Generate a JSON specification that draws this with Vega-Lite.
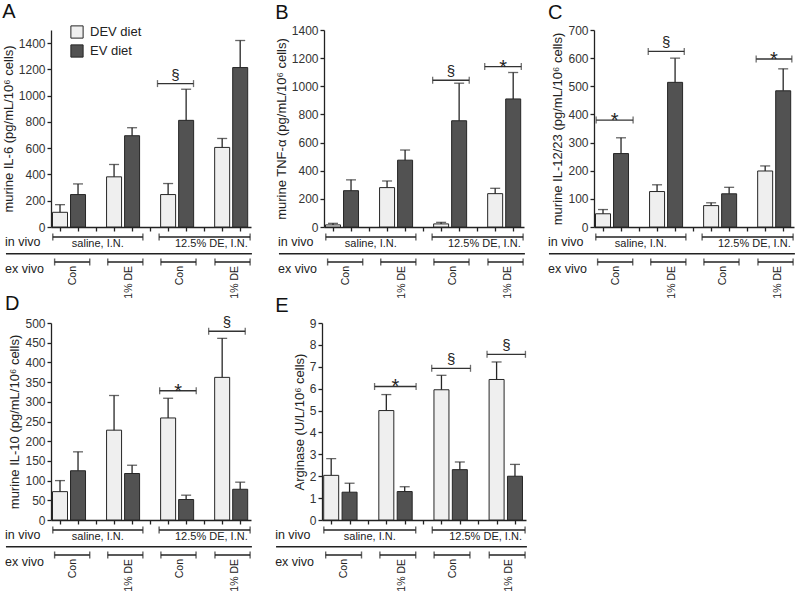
{
 "$schema": "https://vega.github.io/schema/vega-lite/v6.json",
 "padding": {"left": 2, "top": 2, "right": 0, "bottom": 0},
 "background": "white",
 "config": {
  "font": "Liberation Sans",
  "view": {"stroke": null},
  "axis": {"domainColor": "#222222", "tickColor": "#222222", "labelColor": "#333333", "titleColor": "#222222", "labelFontSize": 12, "titleFontSize": 13, "titleFontWeight": "normal", "grid": false, "domainWidth": 1.3, "tickWidth": 1.3, "tickSize": 4, "labelPadding": 2, "titlePadding": 3},
  "title": {"anchor": "start", "frame": "bounds", "fontSize": 20, "fontWeight": "normal", "color": "#111111", "offset": 1},
  "text": {"color": "#222222"}
 },
 "datasets": {
  "bars": [
   {"panel": "A", "diet": "DEV diet", "pos": 1, "mean": 112, "upper": 170},
   {"panel": "A", "diet": "EV diet", "pos": 2, "mean": 247, "upper": 328},
   {"panel": "A", "diet": "DEV diet", "pos": 4, "mean": 382, "upper": 476},
   {"panel": "A", "diet": "EV diet", "pos": 5, "mean": 695, "upper": 756},
   {"panel": "A", "diet": "DEV diet", "pos": 7, "mean": 247, "upper": 331},
   {"panel": "A", "diet": "EV diet", "pos": 8, "mean": 812, "upper": 1049},
   {"panel": "A", "diet": "DEV diet", "pos": 10, "mean": 606, "upper": 674},
   {"panel": "A", "diet": "EV diet", "pos": 11, "mean": 1214, "upper": 1420},
   {"panel": "B", "diet": "DEV diet", "pos": 1, "mean": 15, "upper": 26},
   {"panel": "B", "diet": "EV diet", "pos": 2, "mean": 258, "upper": 335},
   {"panel": "B", "diet": "DEV diet", "pos": 4, "mean": 280, "upper": 327},
   {"panel": "B", "diet": "EV diet", "pos": 5, "mean": 475, "upper": 547},
   {"panel": "B", "diet": "DEV diet", "pos": 7, "mean": 22, "upper": 33},
   {"panel": "B", "diet": "EV diet", "pos": 8, "mean": 755, "upper": 1022},
   {"panel": "B", "diet": "DEV diet", "pos": 10, "mean": 237, "upper": 275},
   {"panel": "B", "diet": "EV diet", "pos": 11, "mean": 910, "upper": 1098},
   {"panel": "C", "diet": "DEV diet", "pos": 1, "mean": 47, "upper": 62},
   {"panel": "C", "diet": "EV diet", "pos": 2, "mean": 261, "upper": 317},
   {"panel": "C", "diet": "DEV diet", "pos": 4, "mean": 126, "upper": 150},
   {"panel": "C", "diet": "EV diet", "pos": 5, "mean": 514, "upper": 600},
   {"panel": "C", "diet": "DEV diet", "pos": 7, "mean": 76, "upper": 86},
   {"panel": "C", "diet": "EV diet", "pos": 8, "mean": 118, "upper": 141},
   {"panel": "C", "diet": "DEV diet", "pos": 10, "mean": 199, "upper": 217},
   {"panel": "C", "diet": "EV diet", "pos": 11, "mean": 484, "upper": 562},
   {"panel": "D", "diet": "DEV diet", "pos": 1, "mean": 72, "upper": 100},
   {"panel": "D", "diet": "EV diet", "pos": 2, "mean": 125, "upper": 173},
   {"panel": "D", "diet": "DEV diet", "pos": 4, "mean": 228, "upper": 316},
   {"panel": "D", "diet": "EV diet", "pos": 5, "mean": 118, "upper": 139},
   {"panel": "D", "diet": "DEV diet", "pos": 7, "mean": 259, "upper": 309},
   {"panel": "D", "diet": "EV diet", "pos": 8, "mean": 52, "upper": 63},
   {"panel": "D", "diet": "DEV diet", "pos": 10, "mean": 362, "upper": 461},
   {"panel": "D", "diet": "EV diet", "pos": 11, "mean": 78, "upper": 96},
   {"panel": "E", "diet": "DEV diet", "pos": 1, "mean": 2.04, "upper": 2.8},
   {"panel": "E", "diet": "EV diet", "pos": 2, "mean": 1.27, "upper": 1.68},
   {"panel": "E", "diet": "DEV diet", "pos": 4, "mean": 5.0, "upper": 5.73},
   {"panel": "E", "diet": "EV diet", "pos": 5, "mean": 1.3, "upper": 1.52},
   {"panel": "E", "diet": "DEV diet", "pos": 7, "mean": 5.95, "upper": 6.61},
   {"panel": "E", "diet": "EV diet", "pos": 8, "mean": 2.3, "upper": 2.65},
   {"panel": "E", "diet": "DEV diet", "pos": 10, "mean": 6.42, "upper": 7.22},
   {"panel": "E", "diet": "EV diet", "pos": 11, "mean": 2.0, "upper": 2.54}
  ],
  "sig": [
   {"panel": "A", "from": 6.41, "to": 8.41, "mid": 7.41, "y": 1092, "symbol": "§"},
   {"panel": "B", "from": 6.53, "to": 8.56, "mid": 7.55, "y": 1043, "symbol": "§"},
   {"panel": "B", "from": 9.42, "to": 11.45, "mid": 10.44, "y": 1140, "symbol": "*"},
   {"panel": "C", "from": 0.62, "to": 2.67, "mid": 1.65, "y": 380, "symbol": "*"},
   {"panel": "C", "from": 3.51, "to": 5.51, "mid": 4.51, "y": 624, "symbol": "§"},
   {"panel": "C", "from": 9.5, "to": 11.48, "mid": 10.49, "y": 597, "symbol": "*"},
   {"panel": "D", "from": 6.53, "to": 8.56, "mid": 7.55, "y": 328, "symbol": "*"},
   {"panel": "D", "from": 9.25, "to": 11.28, "mid": 10.27, "y": 479, "symbol": "§"},
   {"panel": "E", "from": 3.36, "to": 5.62, "mid": 4.49, "y": 6.1, "symbol": "*"},
   {"panel": "E", "from": 6.47, "to": 8.58, "mid": 7.53, "y": 6.93, "symbol": "§"},
   {"panel": "E", "from": 9.48, "to": 11.57, "mid": 10.53, "y": 7.57, "symbol": "§"}
  ],
  "groups": [
   {"tier": "in vivo", "label": "saline, I.N.", "from": 0.6, "to": 5.6, "mid": 3.1},
   {"tier": "in vivo", "label": "12.5% DE, I.N.", "from": 6.5, "to": 11.55, "mid": 9.4},
   {"tier": "ex vivo", "label": "Con", "from": 0.7, "to": 2.65, "mid": 1.7},
   {"tier": "ex vivo", "label": "1% DE", "from": 3.65, "to": 5.6, "mid": 4.85},
   {"tier": "ex vivo", "label": "Con", "from": 6.6, "to": 8.55, "mid": 7.65},
   {"tier": "ex vivo", "label": "1% DE", "from": 9.6, "to": 11.55, "mid": 10.7}
  ],
  "tiers": [
   {"tier": "in vivo"},
   {"tier": "ex vivo"}
  ]
 },
 "resolve": {"scale": {"fill": "independent"}, "legend": {"fill": "independent"}},
 "spacing": -5,
 "vconcat": [
  {
   "spacing": 22,
   "resolve": {"scale": {"fill": "independent"}, "legend": {"fill": "independent"}},
   "hconcat": [
    {
     "title": {"text": "A", "offset": 3},
     "width": 200, "height": 197,
     "resolve": {"scale": {"y": "independent"}},
     "layer": [
      {"layer": [
       {"data": {"name": "bars"}, "transform": [{"filter": "datum.panel === 'A'"}], "mark": {"type": "bar", "orient": "vertical", "width": 15, "stroke": "#262626", "strokeWidth": 1},
        "encoding": {"x": {"field": "pos", "type": "quantitative", "scale": {"domain": [0.5, 11.6], "nice": false, "zero": false, "padding": 0}, "axis": {"values": [1,2,3,4,5,6,7,8,9,10,11], "labels": false, "title": null}}, "y": {"field": "mean", "type": "quantitative", "scale": {"domain": [0, 1500], "nice": false}, "axis": {"values": [0,200,400,600,800,1000,1200,1400], "format": "d", "title": "murine IL-6 (pg/mL/10⁶ cells)"}},
         "fill": {"field": "diet", "type": "nominal", "scale": {"domain": ["DEV diet", "EV diet"], "range": ["#efefef", "#525252"]}, "legend": {"orient": "none", "legendX": 19, "legendY": -5, "title": null, "symbolType": "square", "symbolSize": 150, "symbolStrokeColor": "#262626", "symbolStrokeWidth": 1, "labelFontSize": 13, "labelColor": "#222222", "rowPadding": 1, "labelOffset": 6}}}},
       {"data": {"name": "bars"}, "transform": [{"filter": "datum.panel === 'A'"}], "mark": {"type": "rule", "color": "#262626", "strokeWidth": 1.3},
        "encoding": {"x": {"field": "pos", "type": "quantitative", "scale": {"domain": [0.5, 11.6], "nice": false, "zero": false, "padding": 0}, "axis": {"values": [1,2,3,4,5,6,7,8,9,10,11], "labels": false, "title": null}}, "y": {"field": "mean", "type": "quantitative", "scale": {"domain": [0, 1500], "nice": false}, "axis": {"values": [0,200,400,600,800,1000,1200,1400], "format": "d", "title": "murine IL-6 (pg/mL/10⁶ cells)"}}, "y2": {"field": "upper"}}},
       {"data": {"name": "bars"}, "transform": [{"filter": "datum.panel === 'A'"}], "mark": {"type": "tick", "orient": "horizontal", "size": 10, "thickness": 1.3, "color": "#262626"},
        "encoding": {"x": {"field": "pos", "type": "quantitative", "scale": {"domain": [0.5, 11.6], "nice": false, "zero": false, "padding": 0}, "axis": {"values": [1,2,3,4,5,6,7,8,9,10,11], "labels": false, "title": null}}, "y": {"field": "upper", "type": "quantitative", "scale": {"domain": [0, 1500], "nice": false}, "axis": {"values": [0,200,400,600,800,1000,1200,1400], "format": "d", "title": "murine IL-6 (pg/mL/10⁶ cells)"}}}},
       {"data": {"name": "sig"}, "transform": [{"filter": "datum.panel === 'A'"}], "mark": {"type": "rule", "color": "#333333", "strokeWidth": 1.3},
        "encoding": {"x": {"field": "from", "type": "quantitative", "scale": {"domain": [0.5, 11.6], "nice": false, "zero": false, "padding": 0}, "axis": {"values": [1,2,3,4,5,6,7,8,9,10,11], "labels": false, "title": null}}, "x2": {"field": "to"}, "y": {"field": "y", "type": "quantitative", "scale": {"domain": [0, 1500], "nice": false}, "axis": {"values": [0,200,400,600,800,1000,1200,1400], "format": "d", "title": "murine IL-6 (pg/mL/10⁶ cells)"}}}},
       {"data": {"name": "sig"}, "transform": [{"filter": "datum.panel === 'A'"}, {"fold": ["from", "to"], "as": ["end", "xe"]}], "mark": {"type": "tick", "orient": "vertical", "size": 7, "thickness": 1.3, "color": "#333333"},
        "encoding": {"x": {"field": "xe", "type": "quantitative", "scale": {"domain": [0.5, 11.6], "nice": false, "zero": false, "padding": 0}, "axis": {"values": [1,2,3,4,5,6,7,8,9,10,11], "labels": false, "title": null}}, "y": {"field": "y", "type": "quantitative", "scale": {"domain": [0, 1500], "nice": false}, "axis": {"values": [0,200,400,600,800,1000,1200,1400], "format": "d", "title": "murine IL-6 (pg/mL/10⁶ cells)"}}}},
       {"data": {"name": "sig"}, "transform": [{"filter": "datum.panel === 'A' && datum.symbol === '§'"}], "mark": {"type": "text", "fontSize": 15, "dy": -4, "baseline": "alphabetic", "color": "#222222"},
        "encoding": {"x": {"field": "mid", "type": "quantitative", "scale": {"domain": [0.5, 11.6], "nice": false, "zero": false, "padding": 0}, "axis": {"values": [1,2,3,4,5,6,7,8,9,10,11], "labels": false, "title": null}}, "y": {"field": "y", "type": "quantitative", "scale": {"domain": [0, 1500], "nice": false}, "axis": {"values": [0,200,400,600,800,1000,1200,1400], "format": "d", "title": "murine IL-6 (pg/mL/10⁶ cells)"}}, "text": {"field": "symbol"}}}
      ]},
      {"layer": [
       {"data": {"name": "groups"}, "transform": [{"filter": "datum.tier === 'in vivo'"}], "mark": {"type": "rule", "color": "#222222", "strokeWidth": 1.4}, "encoding": {"x": {"field": "from", "type": "quantitative", "scale": {"domain": [0.5, 11.6], "nice": false, "zero": false, "padding": 0}, "axis": {"values": [1,2,3,4,5,6,7,8,9,10,11], "labels": false, "title": null}}, "x2": {"field": "to"}, "y": {"datum": 10, "type": "quantitative", "scale": {"domain": [-197, 0], "reverse": true, "nice": false, "zero": false}, "axis": null}}},
       {"data": {"name": "groups"}, "transform": [{"filter": "datum.tier === 'in vivo'"}, {"fold": ["from", "to"], "as": ["end", "xe"]}], "mark": {"type": "tick", "orient": "vertical", "size": 7, "thickness": 1.4, "color": "#222222"}, "encoding": {"x": {"field": "xe", "type": "quantitative", "scale": {"domain": [0.5, 11.6], "nice": false, "zero": false, "padding": 0}, "axis": {"values": [1,2,3,4,5,6,7,8,9,10,11], "labels": false, "title": null}}, "y": {"datum": 10, "type": "quantitative", "scale": {"domain": [-197, 0], "reverse": true, "nice": false, "zero": false}, "axis": null}}},
       {"data": {"name": "groups"}, "transform": [{"filter": "datum.tier === 'ex vivo'"}], "mark": {"type": "rule", "color": "#222222", "strokeWidth": 1.4}, "encoding": {"x": {"field": "from", "type": "quantitative", "scale": {"domain": [0.5, 11.6], "nice": false, "zero": false, "padding": 0}, "axis": {"values": [1,2,3,4,5,6,7,8,9,10,11], "labels": false, "title": null}}, "x2": {"field": "to"}, "y": {"datum": 35, "type": "quantitative", "scale": {"domain": [-197, 0], "reverse": true, "nice": false, "zero": false}, "axis": null}}},
       {"data": {"name": "groups"}, "transform": [{"filter": "datum.tier === 'ex vivo'"}, {"fold": ["from", "to"], "as": ["end", "xe"]}], "mark": {"type": "tick", "orient": "vertical", "size": 7, "thickness": 1.4, "color": "#222222"}, "encoding": {"x": {"field": "xe", "type": "quantitative", "scale": {"domain": [0.5, 11.6], "nice": false, "zero": false, "padding": 0}, "axis": {"values": [1,2,3,4,5,6,7,8,9,10,11], "labels": false, "title": null}}, "y": {"datum": 35, "type": "quantitative", "scale": {"domain": [-197, 0], "reverse": true, "nice": false, "zero": false}, "axis": null}}},
       {"data": {"name": "groups"}, "transform": [{"filter": "datum.tier === 'in vivo'"}], "mark": {"type": "text", "fontSize": 11, "align": "center", "baseline": "middle", "color": "#222222"}, "encoding": {"x": {"field": "mid", "type": "quantitative", "scale": {"domain": [0.5, 11.6], "nice": false, "zero": false, "padding": 0}, "axis": {"values": [1,2,3,4,5,6,7,8,9,10,11], "labels": false, "title": null}}, "y": {"datum": 17, "type": "quantitative", "scale": {"domain": [-197, 0], "reverse": true, "nice": false, "zero": false}, "axis": null}, "text": {"field": "label"}}},
       {"data": {"name": "groups"}, "transform": [{"filter": "datum.tier === 'ex vivo'"}], "mark": {"type": "text", "fontSize": 10.5, "angle": 270, "align": "right", "baseline": "middle", "color": "#222222"}, "encoding": {"x": {"field": "mid", "type": "quantitative", "scale": {"domain": [0.5, 11.6], "nice": false, "zero": false, "padding": 0}, "axis": {"values": [1,2,3,4,5,6,7,8,9,10,11], "labels": false, "title": null}}, "y": {"datum": 39, "type": "quantitative", "scale": {"domain": [-197, 0], "reverse": true, "nice": false, "zero": false}, "axis": null}, "text": {"field": "label"}}},
       {"data": {"name": "tiers"}, "transform": [{"filter": "datum.tier === 'in vivo'"}], "mark": {"type": "text", "fontSize": 12.5, "align": "left", "baseline": "middle", "color": "#222222"}, "encoding": {"x": {"datum": -2.05, "type": "quantitative", "scale": {"domain": [0.5, 11.6], "nice": false, "zero": false, "padding": 0}, "axis": {"values": [1,2,3,4,5,6,7,8,9,10,11], "labels": false, "title": null}}, "y": {"datum": 15, "type": "quantitative", "scale": {"domain": [-197, 0], "reverse": true, "nice": false, "zero": false}, "axis": null}, "text": {"field": "tier"}}},
       {"data": {"name": "tiers"}, "transform": [{"filter": "datum.tier === 'ex vivo'"}], "mark": {"type": "text", "fontSize": 12.5, "align": "left", "baseline": "middle", "color": "#222222"}, "encoding": {"x": {"datum": -2.05, "type": "quantitative", "scale": {"domain": [0.5, 11.6], "nice": false, "zero": false, "padding": 0}, "axis": {"values": [1,2,3,4,5,6,7,8,9,10,11], "labels": false, "title": null}}, "y": {"datum": 42, "type": "quantitative", "scale": {"domain": [-197, 0], "reverse": true, "nice": false, "zero": false}, "axis": null}, "text": {"field": "tier"}}},
       {"data": {"name": "tiers"}, "transform": [{"filter": "datum.tier === 'in vivo'"}], "mark": {"type": "rule", "color": "#222222", "strokeWidth": 1.4}, "encoding": {"x": {"datum": -2.0, "type": "quantitative", "scale": {"domain": [0.5, 11.6], "nice": false, "zero": false, "padding": 0}, "axis": {"values": [1,2,3,4,5,6,7,8,9,10,11], "labels": false, "title": null}}, "x2": {"datum": 11.65}, "y": {"datum": 26.7, "type": "quantitative", "scale": {"domain": [-197, 0], "reverse": true, "nice": false, "zero": false}, "axis": null}}}
      ]}
     ]
    },
    {
     "title": {"text": "B"},
     "width": 200, "height": 197,
     "resolve": {"scale": {"y": "independent"}},
     "layer": [
      {"layer": [
       {"data": {"name": "bars"}, "transform": [{"filter": "datum.panel === 'B'"}], "mark": {"type": "bar", "orient": "vertical", "width": 15, "stroke": "#262626", "strokeWidth": 1},
        "encoding": {"x": {"field": "pos", "type": "quantitative", "scale": {"domain": [0.5, 11.6], "nice": false, "zero": false, "padding": 0}, "axis": {"values": [1,2,3,4,5,6,7,8,9,10,11], "labels": false, "title": null}}, "y": {"field": "mean", "type": "quantitative", "scale": {"domain": [0, 1400], "nice": false}, "axis": {"values": [0,200,400,600,800,1000,1200,1400], "format": "d", "title": "murine TNF-α (pg/mL/10⁶ cells)"}},
         "fill": {"field": "diet", "type": "nominal", "scale": {"domain": ["DEV diet", "EV diet"], "range": ["#efefef", "#525252"]}, "legend": null}}},
       {"data": {"name": "bars"}, "transform": [{"filter": "datum.panel === 'B'"}], "mark": {"type": "rule", "color": "#262626", "strokeWidth": 1.3},
        "encoding": {"x": {"field": "pos", "type": "quantitative", "scale": {"domain": [0.5, 11.6], "nice": false, "zero": false, "padding": 0}, "axis": {"values": [1,2,3,4,5,6,7,8,9,10,11], "labels": false, "title": null}}, "y": {"field": "mean", "type": "quantitative", "scale": {"domain": [0, 1400], "nice": false}, "axis": {"values": [0,200,400,600,800,1000,1200,1400], "format": "d", "title": "murine TNF-α (pg/mL/10⁶ cells)"}}, "y2": {"field": "upper"}}},
       {"data": {"name": "bars"}, "transform": [{"filter": "datum.panel === 'B'"}], "mark": {"type": "tick", "orient": "horizontal", "size": 10, "thickness": 1.3, "color": "#262626"},
        "encoding": {"x": {"field": "pos", "type": "quantitative", "scale": {"domain": [0.5, 11.6], "nice": false, "zero": false, "padding": 0}, "axis": {"values": [1,2,3,4,5,6,7,8,9,10,11], "labels": false, "title": null}}, "y": {"field": "upper", "type": "quantitative", "scale": {"domain": [0, 1400], "nice": false}, "axis": {"values": [0,200,400,600,800,1000,1200,1400], "format": "d", "title": "murine TNF-α (pg/mL/10⁶ cells)"}}}},
       {"data": {"name": "sig"}, "transform": [{"filter": "datum.panel === 'B'"}], "mark": {"type": "rule", "color": "#333333", "strokeWidth": 1.3},
        "encoding": {"x": {"field": "from", "type": "quantitative", "scale": {"domain": [0.5, 11.6], "nice": false, "zero": false, "padding": 0}, "axis": {"values": [1,2,3,4,5,6,7,8,9,10,11], "labels": false, "title": null}}, "x2": {"field": "to"}, "y": {"field": "y", "type": "quantitative", "scale": {"domain": [0, 1400], "nice": false}, "axis": {"values": [0,200,400,600,800,1000,1200,1400], "format": "d", "title": "murine TNF-α (pg/mL/10⁶ cells)"}}}},
       {"data": {"name": "sig"}, "transform": [{"filter": "datum.panel === 'B'"}, {"fold": ["from", "to"], "as": ["end", "xe"]}], "mark": {"type": "tick", "orient": "vertical", "size": 7, "thickness": 1.3, "color": "#333333"},
        "encoding": {"x": {"field": "xe", "type": "quantitative", "scale": {"domain": [0.5, 11.6], "nice": false, "zero": false, "padding": 0}, "axis": {"values": [1,2,3,4,5,6,7,8,9,10,11], "labels": false, "title": null}}, "y": {"field": "y", "type": "quantitative", "scale": {"domain": [0, 1400], "nice": false}, "axis": {"values": [0,200,400,600,800,1000,1200,1400], "format": "d", "title": "murine TNF-α (pg/mL/10⁶ cells)"}}}},
       {"data": {"name": "sig"}, "transform": [{"filter": "datum.panel === 'B' && datum.symbol === '§'"}], "mark": {"type": "text", "fontSize": 15, "dy": -4, "baseline": "alphabetic", "color": "#222222"},
        "encoding": {"x": {"field": "mid", "type": "quantitative", "scale": {"domain": [0.5, 11.6], "nice": false, "zero": false, "padding": 0}, "axis": {"values": [1,2,3,4,5,6,7,8,9,10,11], "labels": false, "title": null}}, "y": {"field": "y", "type": "quantitative", "scale": {"domain": [0, 1400], "nice": false}, "axis": {"values": [0,200,400,600,800,1000,1200,1400], "format": "d", "title": "murine TNF-α (pg/mL/10⁶ cells)"}}, "text": {"field": "symbol"}}},
       {"data": {"name": "sig"}, "transform": [{"filter": "datum.panel === 'B' && datum.symbol === '*'"}], "mark": {"type": "text", "fontSize": 20, "dy": 7, "baseline": "alphabetic", "color": "#222222"},
        "encoding": {"x": {"field": "mid", "type": "quantitative", "scale": {"domain": [0.5, 11.6], "nice": false, "zero": false, "padding": 0}, "axis": {"values": [1,2,3,4,5,6,7,8,9,10,11], "labels": false, "title": null}}, "y": {"field": "y", "type": "quantitative", "scale": {"domain": [0, 1400], "nice": false}, "axis": {"values": [0,200,400,600,800,1000,1200,1400], "format": "d", "title": "murine TNF-α (pg/mL/10⁶ cells)"}}, "text": {"field": "symbol"}}}
      ]},
      {"layer": [
       {"data": {"name": "groups"}, "transform": [{"filter": "datum.tier === 'in vivo'"}], "mark": {"type": "rule", "color": "#222222", "strokeWidth": 1.4}, "encoding": {"x": {"field": "from", "type": "quantitative", "scale": {"domain": [0.5, 11.6], "nice": false, "zero": false, "padding": 0}, "axis": {"values": [1,2,3,4,5,6,7,8,9,10,11], "labels": false, "title": null}}, "x2": {"field": "to"}, "y": {"datum": 10, "type": "quantitative", "scale": {"domain": [-197, 0], "reverse": true, "nice": false, "zero": false}, "axis": null}}},
       {"data": {"name": "groups"}, "transform": [{"filter": "datum.tier === 'in vivo'"}, {"fold": ["from", "to"], "as": ["end", "xe"]}], "mark": {"type": "tick", "orient": "vertical", "size": 7, "thickness": 1.4, "color": "#222222"}, "encoding": {"x": {"field": "xe", "type": "quantitative", "scale": {"domain": [0.5, 11.6], "nice": false, "zero": false, "padding": 0}, "axis": {"values": [1,2,3,4,5,6,7,8,9,10,11], "labels": false, "title": null}}, "y": {"datum": 10, "type": "quantitative", "scale": {"domain": [-197, 0], "reverse": true, "nice": false, "zero": false}, "axis": null}}},
       {"data": {"name": "groups"}, "transform": [{"filter": "datum.tier === 'ex vivo'"}], "mark": {"type": "rule", "color": "#222222", "strokeWidth": 1.4}, "encoding": {"x": {"field": "from", "type": "quantitative", "scale": {"domain": [0.5, 11.6], "nice": false, "zero": false, "padding": 0}, "axis": {"values": [1,2,3,4,5,6,7,8,9,10,11], "labels": false, "title": null}}, "x2": {"field": "to"}, "y": {"datum": 35, "type": "quantitative", "scale": {"domain": [-197, 0], "reverse": true, "nice": false, "zero": false}, "axis": null}}},
       {"data": {"name": "groups"}, "transform": [{"filter": "datum.tier === 'ex vivo'"}, {"fold": ["from", "to"], "as": ["end", "xe"]}], "mark": {"type": "tick", "orient": "vertical", "size": 7, "thickness": 1.4, "color": "#222222"}, "encoding": {"x": {"field": "xe", "type": "quantitative", "scale": {"domain": [0.5, 11.6], "nice": false, "zero": false, "padding": 0}, "axis": {"values": [1,2,3,4,5,6,7,8,9,10,11], "labels": false, "title": null}}, "y": {"datum": 35, "type": "quantitative", "scale": {"domain": [-197, 0], "reverse": true, "nice": false, "zero": false}, "axis": null}}},
       {"data": {"name": "groups"}, "transform": [{"filter": "datum.tier === 'in vivo'"}], "mark": {"type": "text", "fontSize": 11, "align": "center", "baseline": "middle", "color": "#222222"}, "encoding": {"x": {"field": "mid", "type": "quantitative", "scale": {"domain": [0.5, 11.6], "nice": false, "zero": false, "padding": 0}, "axis": {"values": [1,2,3,4,5,6,7,8,9,10,11], "labels": false, "title": null}}, "y": {"datum": 17, "type": "quantitative", "scale": {"domain": [-197, 0], "reverse": true, "nice": false, "zero": false}, "axis": null}, "text": {"field": "label"}}},
       {"data": {"name": "groups"}, "transform": [{"filter": "datum.tier === 'ex vivo'"}], "mark": {"type": "text", "fontSize": 10.5, "angle": 270, "align": "right", "baseline": "middle", "color": "#222222"}, "encoding": {"x": {"field": "mid", "type": "quantitative", "scale": {"domain": [0.5, 11.6], "nice": false, "zero": false, "padding": 0}, "axis": {"values": [1,2,3,4,5,6,7,8,9,10,11], "labels": false, "title": null}}, "y": {"datum": 39, "type": "quantitative", "scale": {"domain": [-197, 0], "reverse": true, "nice": false, "zero": false}, "axis": null}, "text": {"field": "label"}}},
       {"data": {"name": "tiers"}, "transform": [{"filter": "datum.tier === 'in vivo'"}], "mark": {"type": "text", "fontSize": 12.5, "align": "left", "baseline": "middle", "color": "#222222"}, "encoding": {"x": {"datum": -2.05, "type": "quantitative", "scale": {"domain": [0.5, 11.6], "nice": false, "zero": false, "padding": 0}, "axis": {"values": [1,2,3,4,5,6,7,8,9,10,11], "labels": false, "title": null}}, "y": {"datum": 15, "type": "quantitative", "scale": {"domain": [-197, 0], "reverse": true, "nice": false, "zero": false}, "axis": null}, "text": {"field": "tier"}}},
       {"data": {"name": "tiers"}, "transform": [{"filter": "datum.tier === 'ex vivo'"}], "mark": {"type": "text", "fontSize": 12.5, "align": "left", "baseline": "middle", "color": "#222222"}, "encoding": {"x": {"datum": -2.05, "type": "quantitative", "scale": {"domain": [0.5, 11.6], "nice": false, "zero": false, "padding": 0}, "axis": {"values": [1,2,3,4,5,6,7,8,9,10,11], "labels": false, "title": null}}, "y": {"datum": 42, "type": "quantitative", "scale": {"domain": [-197, 0], "reverse": true, "nice": false, "zero": false}, "axis": null}, "text": {"field": "tier"}}},
       {"data": {"name": "tiers"}, "transform": [{"filter": "datum.tier === 'in vivo'"}], "mark": {"type": "rule", "color": "#222222", "strokeWidth": 1.4}, "encoding": {"x": {"datum": -2.0, "type": "quantitative", "scale": {"domain": [0.5, 11.6], "nice": false, "zero": false, "padding": 0}, "axis": {"values": [1,2,3,4,5,6,7,8,9,10,11], "labels": false, "title": null}}, "x2": {"datum": 11.65}, "y": {"datum": 26.7, "type": "quantitative", "scale": {"domain": [-197, 0], "reverse": true, "nice": false, "zero": false}, "axis": null}}}
      ]}
     ]
    },
    {
     "title": {"text": "C"},
     "width": 200, "height": 197,
     "resolve": {"scale": {"y": "independent"}},
     "layer": [
      {"layer": [
       {"data": {"name": "bars"}, "transform": [{"filter": "datum.panel === 'C'"}], "mark": {"type": "bar", "orient": "vertical", "width": 15, "stroke": "#262626", "strokeWidth": 1},
        "encoding": {"x": {"field": "pos", "type": "quantitative", "scale": {"domain": [0.5, 11.6], "nice": false, "zero": false, "padding": 0}, "axis": {"values": [1,2,3,4,5,6,7,8,9,10,11], "labels": false, "title": null}}, "y": {"field": "mean", "type": "quantitative", "scale": {"domain": [0, 700], "nice": false}, "axis": {"values": [0,100,200,300,400,500,600,700], "format": "d", "title": "murine IL-12/23 (pg/mL/10⁶ cells)"}},
         "fill": {"field": "diet", "type": "nominal", "scale": {"domain": ["DEV diet", "EV diet"], "range": ["#efefef", "#525252"]}, "legend": null}}},
       {"data": {"name": "bars"}, "transform": [{"filter": "datum.panel === 'C'"}], "mark": {"type": "rule", "color": "#262626", "strokeWidth": 1.3},
        "encoding": {"x": {"field": "pos", "type": "quantitative", "scale": {"domain": [0.5, 11.6], "nice": false, "zero": false, "padding": 0}, "axis": {"values": [1,2,3,4,5,6,7,8,9,10,11], "labels": false, "title": null}}, "y": {"field": "mean", "type": "quantitative", "scale": {"domain": [0, 700], "nice": false}, "axis": {"values": [0,100,200,300,400,500,600,700], "format": "d", "title": "murine IL-12/23 (pg/mL/10⁶ cells)"}}, "y2": {"field": "upper"}}},
       {"data": {"name": "bars"}, "transform": [{"filter": "datum.panel === 'C'"}], "mark": {"type": "tick", "orient": "horizontal", "size": 10, "thickness": 1.3, "color": "#262626"},
        "encoding": {"x": {"field": "pos", "type": "quantitative", "scale": {"domain": [0.5, 11.6], "nice": false, "zero": false, "padding": 0}, "axis": {"values": [1,2,3,4,5,6,7,8,9,10,11], "labels": false, "title": null}}, "y": {"field": "upper", "type": "quantitative", "scale": {"domain": [0, 700], "nice": false}, "axis": {"values": [0,100,200,300,400,500,600,700], "format": "d", "title": "murine IL-12/23 (pg/mL/10⁶ cells)"}}}},
       {"data": {"name": "sig"}, "transform": [{"filter": "datum.panel === 'C'"}], "mark": {"type": "rule", "color": "#333333", "strokeWidth": 1.3},
        "encoding": {"x": {"field": "from", "type": "quantitative", "scale": {"domain": [0.5, 11.6], "nice": false, "zero": false, "padding": 0}, "axis": {"values": [1,2,3,4,5,6,7,8,9,10,11], "labels": false, "title": null}}, "x2": {"field": "to"}, "y": {"field": "y", "type": "quantitative", "scale": {"domain": [0, 700], "nice": false}, "axis": {"values": [0,100,200,300,400,500,600,700], "format": "d", "title": "murine IL-12/23 (pg/mL/10⁶ cells)"}}}},
       {"data": {"name": "sig"}, "transform": [{"filter": "datum.panel === 'C'"}, {"fold": ["from", "to"], "as": ["end", "xe"]}], "mark": {"type": "tick", "orient": "vertical", "size": 7, "thickness": 1.3, "color": "#333333"},
        "encoding": {"x": {"field": "xe", "type": "quantitative", "scale": {"domain": [0.5, 11.6], "nice": false, "zero": false, "padding": 0}, "axis": {"values": [1,2,3,4,5,6,7,8,9,10,11], "labels": false, "title": null}}, "y": {"field": "y", "type": "quantitative", "scale": {"domain": [0, 700], "nice": false}, "axis": {"values": [0,100,200,300,400,500,600,700], "format": "d", "title": "murine IL-12/23 (pg/mL/10⁶ cells)"}}}},
       {"data": {"name": "sig"}, "transform": [{"filter": "datum.panel === 'C' && datum.symbol === '§'"}], "mark": {"type": "text", "fontSize": 15, "dy": -4, "baseline": "alphabetic", "color": "#222222"},
        "encoding": {"x": {"field": "mid", "type": "quantitative", "scale": {"domain": [0.5, 11.6], "nice": false, "zero": false, "padding": 0}, "axis": {"values": [1,2,3,4,5,6,7,8,9,10,11], "labels": false, "title": null}}, "y": {"field": "y", "type": "quantitative", "scale": {"domain": [0, 700], "nice": false}, "axis": {"values": [0,100,200,300,400,500,600,700], "format": "d", "title": "murine IL-12/23 (pg/mL/10⁶ cells)"}}, "text": {"field": "symbol"}}},
       {"data": {"name": "sig"}, "transform": [{"filter": "datum.panel === 'C' && datum.symbol === '*'"}], "mark": {"type": "text", "fontSize": 20, "dy": 7, "baseline": "alphabetic", "color": "#222222"},
        "encoding": {"x": {"field": "mid", "type": "quantitative", "scale": {"domain": [0.5, 11.6], "nice": false, "zero": false, "padding": 0}, "axis": {"values": [1,2,3,4,5,6,7,8,9,10,11], "labels": false, "title": null}}, "y": {"field": "y", "type": "quantitative", "scale": {"domain": [0, 700], "nice": false}, "axis": {"values": [0,100,200,300,400,500,600,700], "format": "d", "title": "murine IL-12/23 (pg/mL/10⁶ cells)"}}, "text": {"field": "symbol"}}}
      ]},
      {"layer": [
       {"data": {"name": "groups"}, "transform": [{"filter": "datum.tier === 'in vivo'"}], "mark": {"type": "rule", "color": "#222222", "strokeWidth": 1.4}, "encoding": {"x": {"field": "from", "type": "quantitative", "scale": {"domain": [0.5, 11.6], "nice": false, "zero": false, "padding": 0}, "axis": {"values": [1,2,3,4,5,6,7,8,9,10,11], "labels": false, "title": null}}, "x2": {"field": "to"}, "y": {"datum": 10, "type": "quantitative", "scale": {"domain": [-197, 0], "reverse": true, "nice": false, "zero": false}, "axis": null}}},
       {"data": {"name": "groups"}, "transform": [{"filter": "datum.tier === 'in vivo'"}, {"fold": ["from", "to"], "as": ["end", "xe"]}], "mark": {"type": "tick", "orient": "vertical", "size": 7, "thickness": 1.4, "color": "#222222"}, "encoding": {"x": {"field": "xe", "type": "quantitative", "scale": {"domain": [0.5, 11.6], "nice": false, "zero": false, "padding": 0}, "axis": {"values": [1,2,3,4,5,6,7,8,9,10,11], "labels": false, "title": null}}, "y": {"datum": 10, "type": "quantitative", "scale": {"domain": [-197, 0], "reverse": true, "nice": false, "zero": false}, "axis": null}}},
       {"data": {"name": "groups"}, "transform": [{"filter": "datum.tier === 'ex vivo'"}], "mark": {"type": "rule", "color": "#222222", "strokeWidth": 1.4}, "encoding": {"x": {"field": "from", "type": "quantitative", "scale": {"domain": [0.5, 11.6], "nice": false, "zero": false, "padding": 0}, "axis": {"values": [1,2,3,4,5,6,7,8,9,10,11], "labels": false, "title": null}}, "x2": {"field": "to"}, "y": {"datum": 35, "type": "quantitative", "scale": {"domain": [-197, 0], "reverse": true, "nice": false, "zero": false}, "axis": null}}},
       {"data": {"name": "groups"}, "transform": [{"filter": "datum.tier === 'ex vivo'"}, {"fold": ["from", "to"], "as": ["end", "xe"]}], "mark": {"type": "tick", "orient": "vertical", "size": 7, "thickness": 1.4, "color": "#222222"}, "encoding": {"x": {"field": "xe", "type": "quantitative", "scale": {"domain": [0.5, 11.6], "nice": false, "zero": false, "padding": 0}, "axis": {"values": [1,2,3,4,5,6,7,8,9,10,11], "labels": false, "title": null}}, "y": {"datum": 35, "type": "quantitative", "scale": {"domain": [-197, 0], "reverse": true, "nice": false, "zero": false}, "axis": null}}},
       {"data": {"name": "groups"}, "transform": [{"filter": "datum.tier === 'in vivo'"}], "mark": {"type": "text", "fontSize": 11, "align": "center", "baseline": "middle", "color": "#222222"}, "encoding": {"x": {"field": "mid", "type": "quantitative", "scale": {"domain": [0.5, 11.6], "nice": false, "zero": false, "padding": 0}, "axis": {"values": [1,2,3,4,5,6,7,8,9,10,11], "labels": false, "title": null}}, "y": {"datum": 17, "type": "quantitative", "scale": {"domain": [-197, 0], "reverse": true, "nice": false, "zero": false}, "axis": null}, "text": {"field": "label"}}},
       {"data": {"name": "groups"}, "transform": [{"filter": "datum.tier === 'ex vivo'"}], "mark": {"type": "text", "fontSize": 10.5, "angle": 270, "align": "right", "baseline": "middle", "color": "#222222"}, "encoding": {"x": {"field": "mid", "type": "quantitative", "scale": {"domain": [0.5, 11.6], "nice": false, "zero": false, "padding": 0}, "axis": {"values": [1,2,3,4,5,6,7,8,9,10,11], "labels": false, "title": null}}, "y": {"datum": 39, "type": "quantitative", "scale": {"domain": [-197, 0], "reverse": true, "nice": false, "zero": false}, "axis": null}, "text": {"field": "label"}}},
       {"data": {"name": "tiers"}, "transform": [{"filter": "datum.tier === 'in vivo'"}], "mark": {"type": "text", "fontSize": 12.5, "align": "left", "baseline": "middle", "color": "#222222"}, "encoding": {"x": {"datum": -2.05, "type": "quantitative", "scale": {"domain": [0.5, 11.6], "nice": false, "zero": false, "padding": 0}, "axis": {"values": [1,2,3,4,5,6,7,8,9,10,11], "labels": false, "title": null}}, "y": {"datum": 15, "type": "quantitative", "scale": {"domain": [-197, 0], "reverse": true, "nice": false, "zero": false}, "axis": null}, "text": {"field": "tier"}}},
       {"data": {"name": "tiers"}, "transform": [{"filter": "datum.tier === 'ex vivo'"}], "mark": {"type": "text", "fontSize": 12.5, "align": "left", "baseline": "middle", "color": "#222222"}, "encoding": {"x": {"datum": -2.05, "type": "quantitative", "scale": {"domain": [0.5, 11.6], "nice": false, "zero": false, "padding": 0}, "axis": {"values": [1,2,3,4,5,6,7,8,9,10,11], "labels": false, "title": null}}, "y": {"datum": 42, "type": "quantitative", "scale": {"domain": [-197, 0], "reverse": true, "nice": false, "zero": false}, "axis": null}, "text": {"field": "tier"}}},
       {"data": {"name": "tiers"}, "transform": [{"filter": "datum.tier === 'in vivo'"}], "mark": {"type": "rule", "color": "#222222", "strokeWidth": 1.4}, "encoding": {"x": {"datum": -2.0, "type": "quantitative", "scale": {"domain": [0.5, 11.6], "nice": false, "zero": false, "padding": 0}, "axis": {"values": [1,2,3,4,5,6,7,8,9,10,11], "labels": false, "title": null}}, "x2": {"datum": 11.65}, "y": {"datum": 26.7, "type": "quantitative", "scale": {"domain": [-197, 0], "reverse": true, "nice": false, "zero": false}, "axis": null}}}
      ]}
     ]
    }
   ]
  },
  {
   "spacing": 22,
   "resolve": {"scale": {"fill": "independent"}, "legend": {"fill": "independent"}},
   "hconcat": [
    {
     "title": {"text": "D"},
     "width": 200, "height": 197,
     "resolve": {"scale": {"y": "independent"}},
     "layer": [
      {"layer": [
       {"data": {"name": "bars"}, "transform": [{"filter": "datum.panel === 'D'"}], "mark": {"type": "bar", "orient": "vertical", "width": 15, "stroke": "#262626", "strokeWidth": 1},
        "encoding": {"x": {"field": "pos", "type": "quantitative", "scale": {"domain": [0.5, 11.6], "nice": false, "zero": false, "padding": 0}, "axis": {"values": [1,2,3,4,5,6,7,8,9,10,11], "labels": false, "title": null}}, "y": {"field": "mean", "type": "quantitative", "scale": {"domain": [0, 500], "nice": false}, "axis": {"values": [0,50,100,150,200,250,300,350,400,450,500], "format": "d", "title": "murine IL-10 (pg/mL/10⁶ cells)"}},
         "fill": {"field": "diet", "type": "nominal", "scale": {"domain": ["DEV diet", "EV diet"], "range": ["#efefef", "#525252"]}, "legend": null}}},
       {"data": {"name": "bars"}, "transform": [{"filter": "datum.panel === 'D'"}], "mark": {"type": "rule", "color": "#262626", "strokeWidth": 1.3},
        "encoding": {"x": {"field": "pos", "type": "quantitative", "scale": {"domain": [0.5, 11.6], "nice": false, "zero": false, "padding": 0}, "axis": {"values": [1,2,3,4,5,6,7,8,9,10,11], "labels": false, "title": null}}, "y": {"field": "mean", "type": "quantitative", "scale": {"domain": [0, 500], "nice": false}, "axis": {"values": [0,50,100,150,200,250,300,350,400,450,500], "format": "d", "title": "murine IL-10 (pg/mL/10⁶ cells)"}}, "y2": {"field": "upper"}}},
       {"data": {"name": "bars"}, "transform": [{"filter": "datum.panel === 'D'"}], "mark": {"type": "tick", "orient": "horizontal", "size": 10, "thickness": 1.3, "color": "#262626"},
        "encoding": {"x": {"field": "pos", "type": "quantitative", "scale": {"domain": [0.5, 11.6], "nice": false, "zero": false, "padding": 0}, "axis": {"values": [1,2,3,4,5,6,7,8,9,10,11], "labels": false, "title": null}}, "y": {"field": "upper", "type": "quantitative", "scale": {"domain": [0, 500], "nice": false}, "axis": {"values": [0,50,100,150,200,250,300,350,400,450,500], "format": "d", "title": "murine IL-10 (pg/mL/10⁶ cells)"}}}},
       {"data": {"name": "sig"}, "transform": [{"filter": "datum.panel === 'D'"}], "mark": {"type": "rule", "color": "#333333", "strokeWidth": 1.3},
        "encoding": {"x": {"field": "from", "type": "quantitative", "scale": {"domain": [0.5, 11.6], "nice": false, "zero": false, "padding": 0}, "axis": {"values": [1,2,3,4,5,6,7,8,9,10,11], "labels": false, "title": null}}, "x2": {"field": "to"}, "y": {"field": "y", "type": "quantitative", "scale": {"domain": [0, 500], "nice": false}, "axis": {"values": [0,50,100,150,200,250,300,350,400,450,500], "format": "d", "title": "murine IL-10 (pg/mL/10⁶ cells)"}}}},
       {"data": {"name": "sig"}, "transform": [{"filter": "datum.panel === 'D'"}, {"fold": ["from", "to"], "as": ["end", "xe"]}], "mark": {"type": "tick", "orient": "vertical", "size": 7, "thickness": 1.3, "color": "#333333"},
        "encoding": {"x": {"field": "xe", "type": "quantitative", "scale": {"domain": [0.5, 11.6], "nice": false, "zero": false, "padding": 0}, "axis": {"values": [1,2,3,4,5,6,7,8,9,10,11], "labels": false, "title": null}}, "y": {"field": "y", "type": "quantitative", "scale": {"domain": [0, 500], "nice": false}, "axis": {"values": [0,50,100,150,200,250,300,350,400,450,500], "format": "d", "title": "murine IL-10 (pg/mL/10⁶ cells)"}}}},
       {"data": {"name": "sig"}, "transform": [{"filter": "datum.panel === 'D' && datum.symbol === '§'"}], "mark": {"type": "text", "fontSize": 15, "dy": -4, "baseline": "alphabetic", "color": "#222222"},
        "encoding": {"x": {"field": "mid", "type": "quantitative", "scale": {"domain": [0.5, 11.6], "nice": false, "zero": false, "padding": 0}, "axis": {"values": [1,2,3,4,5,6,7,8,9,10,11], "labels": false, "title": null}}, "y": {"field": "y", "type": "quantitative", "scale": {"domain": [0, 500], "nice": false}, "axis": {"values": [0,50,100,150,200,250,300,350,400,450,500], "format": "d", "title": "murine IL-10 (pg/mL/10⁶ cells)"}}, "text": {"field": "symbol"}}},
       {"data": {"name": "sig"}, "transform": [{"filter": "datum.panel === 'D' && datum.symbol === '*'"}], "mark": {"type": "text", "fontSize": 20, "dy": 7, "baseline": "alphabetic", "color": "#222222"},
        "encoding": {"x": {"field": "mid", "type": "quantitative", "scale": {"domain": [0.5, 11.6], "nice": false, "zero": false, "padding": 0}, "axis": {"values": [1,2,3,4,5,6,7,8,9,10,11], "labels": false, "title": null}}, "y": {"field": "y", "type": "quantitative", "scale": {"domain": [0, 500], "nice": false}, "axis": {"values": [0,50,100,150,200,250,300,350,400,450,500], "format": "d", "title": "murine IL-10 (pg/mL/10⁶ cells)"}}, "text": {"field": "symbol"}}}
      ]},
      {"layer": [
       {"data": {"name": "groups"}, "transform": [{"filter": "datum.tier === 'in vivo'"}], "mark": {"type": "rule", "color": "#222222", "strokeWidth": 1.4}, "encoding": {"x": {"field": "from", "type": "quantitative", "scale": {"domain": [0.5, 11.6], "nice": false, "zero": false, "padding": 0}, "axis": {"values": [1,2,3,4,5,6,7,8,9,10,11], "labels": false, "title": null}}, "x2": {"field": "to"}, "y": {"datum": 10, "type": "quantitative", "scale": {"domain": [-197, 0], "reverse": true, "nice": false, "zero": false}, "axis": null}}},
       {"data": {"name": "groups"}, "transform": [{"filter": "datum.tier === 'in vivo'"}, {"fold": ["from", "to"], "as": ["end", "xe"]}], "mark": {"type": "tick", "orient": "vertical", "size": 7, "thickness": 1.4, "color": "#222222"}, "encoding": {"x": {"field": "xe", "type": "quantitative", "scale": {"domain": [0.5, 11.6], "nice": false, "zero": false, "padding": 0}, "axis": {"values": [1,2,3,4,5,6,7,8,9,10,11], "labels": false, "title": null}}, "y": {"datum": 10, "type": "quantitative", "scale": {"domain": [-197, 0], "reverse": true, "nice": false, "zero": false}, "axis": null}}},
       {"data": {"name": "groups"}, "transform": [{"filter": "datum.tier === 'ex vivo'"}], "mark": {"type": "rule", "color": "#222222", "strokeWidth": 1.4}, "encoding": {"x": {"field": "from", "type": "quantitative", "scale": {"domain": [0.5, 11.6], "nice": false, "zero": false, "padding": 0}, "axis": {"values": [1,2,3,4,5,6,7,8,9,10,11], "labels": false, "title": null}}, "x2": {"field": "to"}, "y": {"datum": 35, "type": "quantitative", "scale": {"domain": [-197, 0], "reverse": true, "nice": false, "zero": false}, "axis": null}}},
       {"data": {"name": "groups"}, "transform": [{"filter": "datum.tier === 'ex vivo'"}, {"fold": ["from", "to"], "as": ["end", "xe"]}], "mark": {"type": "tick", "orient": "vertical", "size": 7, "thickness": 1.4, "color": "#222222"}, "encoding": {"x": {"field": "xe", "type": "quantitative", "scale": {"domain": [0.5, 11.6], "nice": false, "zero": false, "padding": 0}, "axis": {"values": [1,2,3,4,5,6,7,8,9,10,11], "labels": false, "title": null}}, "y": {"datum": 35, "type": "quantitative", "scale": {"domain": [-197, 0], "reverse": true, "nice": false, "zero": false}, "axis": null}}},
       {"data": {"name": "groups"}, "transform": [{"filter": "datum.tier === 'in vivo'"}], "mark": {"type": "text", "fontSize": 11, "align": "center", "baseline": "middle", "color": "#222222"}, "encoding": {"x": {"field": "mid", "type": "quantitative", "scale": {"domain": [0.5, 11.6], "nice": false, "zero": false, "padding": 0}, "axis": {"values": [1,2,3,4,5,6,7,8,9,10,11], "labels": false, "title": null}}, "y": {"datum": 17, "type": "quantitative", "scale": {"domain": [-197, 0], "reverse": true, "nice": false, "zero": false}, "axis": null}, "text": {"field": "label"}}},
       {"data": {"name": "groups"}, "transform": [{"filter": "datum.tier === 'ex vivo'"}], "mark": {"type": "text", "fontSize": 10.5, "angle": 270, "align": "right", "baseline": "middle", "color": "#222222"}, "encoding": {"x": {"field": "mid", "type": "quantitative", "scale": {"domain": [0.5, 11.6], "nice": false, "zero": false, "padding": 0}, "axis": {"values": [1,2,3,4,5,6,7,8,9,10,11], "labels": false, "title": null}}, "y": {"datum": 39, "type": "quantitative", "scale": {"domain": [-197, 0], "reverse": true, "nice": false, "zero": false}, "axis": null}, "text": {"field": "label"}}},
       {"data": {"name": "tiers"}, "transform": [{"filter": "datum.tier === 'in vivo'"}], "mark": {"type": "text", "fontSize": 12.5, "align": "left", "baseline": "middle", "color": "#222222"}, "encoding": {"x": {"datum": -2.05, "type": "quantitative", "scale": {"domain": [0.5, 11.6], "nice": false, "zero": false, "padding": 0}, "axis": {"values": [1,2,3,4,5,6,7,8,9,10,11], "labels": false, "title": null}}, "y": {"datum": 15, "type": "quantitative", "scale": {"domain": [-197, 0], "reverse": true, "nice": false, "zero": false}, "axis": null}, "text": {"field": "tier"}}},
       {"data": {"name": "tiers"}, "transform": [{"filter": "datum.tier === 'ex vivo'"}], "mark": {"type": "text", "fontSize": 12.5, "align": "left", "baseline": "middle", "color": "#222222"}, "encoding": {"x": {"datum": -2.05, "type": "quantitative", "scale": {"domain": [0.5, 11.6], "nice": false, "zero": false, "padding": 0}, "axis": {"values": [1,2,3,4,5,6,7,8,9,10,11], "labels": false, "title": null}}, "y": {"datum": 42, "type": "quantitative", "scale": {"domain": [-197, 0], "reverse": true, "nice": false, "zero": false}, "axis": null}, "text": {"field": "tier"}}},
       {"data": {"name": "tiers"}, "transform": [{"filter": "datum.tier === 'in vivo'"}], "mark": {"type": "rule", "color": "#222222", "strokeWidth": 1.4}, "encoding": {"x": {"datum": -2.0, "type": "quantitative", "scale": {"domain": [0.5, 11.6], "nice": false, "zero": false, "padding": 0}, "axis": {"values": [1,2,3,4,5,6,7,8,9,10,11], "labels": false, "title": null}}, "x2": {"datum": 11.65}, "y": {"datum": 26.7, "type": "quantitative", "scale": {"domain": [-197, 0], "reverse": true, "nice": false, "zero": false}, "axis": null}}}
      ]}
     ]
    },
    {
     "title": {"text": "E"},
     "width": 204, "height": 197,
     "resolve": {"scale": {"y": "independent"}},
     "layer": [
      {"layer": [
       {"data": {"name": "bars"}, "transform": [{"filter": "datum.panel === 'E'"}], "mark": {"type": "bar", "orient": "vertical", "width": 15, "stroke": "#262626", "strokeWidth": 1},
        "encoding": {"x": {"field": "pos", "type": "quantitative", "scale": {"domain": [0.5, 11.6], "nice": false, "zero": false, "padding": 0}, "axis": {"values": [1,2,3,4,5,6,7,8,9,10,11], "labels": false, "title": null}}, "y": {"field": "mean", "type": "quantitative", "scale": {"domain": [0, 9], "nice": false}, "axis": {"values": [0,1,2,3,4,5,6,7,8,9], "format": "d", "title": "Arginase (U/L/10⁶ cells)"}},
         "fill": {"field": "diet", "type": "nominal", "scale": {"domain": ["DEV diet", "EV diet"], "range": ["#efefef", "#525252"]}, "legend": null}}},
       {"data": {"name": "bars"}, "transform": [{"filter": "datum.panel === 'E'"}], "mark": {"type": "rule", "color": "#262626", "strokeWidth": 1.3},
        "encoding": {"x": {"field": "pos", "type": "quantitative", "scale": {"domain": [0.5, 11.6], "nice": false, "zero": false, "padding": 0}, "axis": {"values": [1,2,3,4,5,6,7,8,9,10,11], "labels": false, "title": null}}, "y": {"field": "mean", "type": "quantitative", "scale": {"domain": [0, 9], "nice": false}, "axis": {"values": [0,1,2,3,4,5,6,7,8,9], "format": "d", "title": "Arginase (U/L/10⁶ cells)"}}, "y2": {"field": "upper"}}},
       {"data": {"name": "bars"}, "transform": [{"filter": "datum.panel === 'E'"}], "mark": {"type": "tick", "orient": "horizontal", "size": 10, "thickness": 1.3, "color": "#262626"},
        "encoding": {"x": {"field": "pos", "type": "quantitative", "scale": {"domain": [0.5, 11.6], "nice": false, "zero": false, "padding": 0}, "axis": {"values": [1,2,3,4,5,6,7,8,9,10,11], "labels": false, "title": null}}, "y": {"field": "upper", "type": "quantitative", "scale": {"domain": [0, 9], "nice": false}, "axis": {"values": [0,1,2,3,4,5,6,7,8,9], "format": "d", "title": "Arginase (U/L/10⁶ cells)"}}}},
       {"data": {"name": "sig"}, "transform": [{"filter": "datum.panel === 'E'"}], "mark": {"type": "rule", "color": "#333333", "strokeWidth": 1.3},
        "encoding": {"x": {"field": "from", "type": "quantitative", "scale": {"domain": [0.5, 11.6], "nice": false, "zero": false, "padding": 0}, "axis": {"values": [1,2,3,4,5,6,7,8,9,10,11], "labels": false, "title": null}}, "x2": {"field": "to"}, "y": {"field": "y", "type": "quantitative", "scale": {"domain": [0, 9], "nice": false}, "axis": {"values": [0,1,2,3,4,5,6,7,8,9], "format": "d", "title": "Arginase (U/L/10⁶ cells)"}}}},
       {"data": {"name": "sig"}, "transform": [{"filter": "datum.panel === 'E'"}, {"fold": ["from", "to"], "as": ["end", "xe"]}], "mark": {"type": "tick", "orient": "vertical", "size": 7, "thickness": 1.3, "color": "#333333"},
        "encoding": {"x": {"field": "xe", "type": "quantitative", "scale": {"domain": [0.5, 11.6], "nice": false, "zero": false, "padding": 0}, "axis": {"values": [1,2,3,4,5,6,7,8,9,10,11], "labels": false, "title": null}}, "y": {"field": "y", "type": "quantitative", "scale": {"domain": [0, 9], "nice": false}, "axis": {"values": [0,1,2,3,4,5,6,7,8,9], "format": "d", "title": "Arginase (U/L/10⁶ cells)"}}}},
       {"data": {"name": "sig"}, "transform": [{"filter": "datum.panel === 'E' && datum.symbol === '§'"}], "mark": {"type": "text", "fontSize": 15, "dy": -4, "baseline": "alphabetic", "color": "#222222"},
        "encoding": {"x": {"field": "mid", "type": "quantitative", "scale": {"domain": [0.5, 11.6], "nice": false, "zero": false, "padding": 0}, "axis": {"values": [1,2,3,4,5,6,7,8,9,10,11], "labels": false, "title": null}}, "y": {"field": "y", "type": "quantitative", "scale": {"domain": [0, 9], "nice": false}, "axis": {"values": [0,1,2,3,4,5,6,7,8,9], "format": "d", "title": "Arginase (U/L/10⁶ cells)"}}, "text": {"field": "symbol"}}},
       {"data": {"name": "sig"}, "transform": [{"filter": "datum.panel === 'E' && datum.symbol === '*'"}], "mark": {"type": "text", "fontSize": 20, "dy": 7, "baseline": "alphabetic", "color": "#222222"},
        "encoding": {"x": {"field": "mid", "type": "quantitative", "scale": {"domain": [0.5, 11.6], "nice": false, "zero": false, "padding": 0}, "axis": {"values": [1,2,3,4,5,6,7,8,9,10,11], "labels": false, "title": null}}, "y": {"field": "y", "type": "quantitative", "scale": {"domain": [0, 9], "nice": false}, "axis": {"values": [0,1,2,3,4,5,6,7,8,9], "format": "d", "title": "Arginase (U/L/10⁶ cells)"}}, "text": {"field": "symbol"}}}
      ]},
      {"layer": [
       {"data": {"name": "groups"}, "transform": [{"filter": "datum.tier === 'in vivo'"}], "mark": {"type": "rule", "color": "#222222", "strokeWidth": 1.4}, "encoding": {"x": {"field": "from", "type": "quantitative", "scale": {"domain": [0.5, 11.6], "nice": false, "zero": false, "padding": 0}, "axis": {"values": [1,2,3,4,5,6,7,8,9,10,11], "labels": false, "title": null}}, "x2": {"field": "to"}, "y": {"datum": 10, "type": "quantitative", "scale": {"domain": [-197, 0], "reverse": true, "nice": false, "zero": false}, "axis": null}}},
       {"data": {"name": "groups"}, "transform": [{"filter": "datum.tier === 'in vivo'"}, {"fold": ["from", "to"], "as": ["end", "xe"]}], "mark": {"type": "tick", "orient": "vertical", "size": 7, "thickness": 1.4, "color": "#222222"}, "encoding": {"x": {"field": "xe", "type": "quantitative", "scale": {"domain": [0.5, 11.6], "nice": false, "zero": false, "padding": 0}, "axis": {"values": [1,2,3,4,5,6,7,8,9,10,11], "labels": false, "title": null}}, "y": {"datum": 10, "type": "quantitative", "scale": {"domain": [-197, 0], "reverse": true, "nice": false, "zero": false}, "axis": null}}},
       {"data": {"name": "groups"}, "transform": [{"filter": "datum.tier === 'ex vivo'"}], "mark": {"type": "rule", "color": "#222222", "strokeWidth": 1.4}, "encoding": {"x": {"field": "from", "type": "quantitative", "scale": {"domain": [0.5, 11.6], "nice": false, "zero": false, "padding": 0}, "axis": {"values": [1,2,3,4,5,6,7,8,9,10,11], "labels": false, "title": null}}, "x2": {"field": "to"}, "y": {"datum": 35, "type": "quantitative", "scale": {"domain": [-197, 0], "reverse": true, "nice": false, "zero": false}, "axis": null}}},
       {"data": {"name": "groups"}, "transform": [{"filter": "datum.tier === 'ex vivo'"}, {"fold": ["from", "to"], "as": ["end", "xe"]}], "mark": {"type": "tick", "orient": "vertical", "size": 7, "thickness": 1.4, "color": "#222222"}, "encoding": {"x": {"field": "xe", "type": "quantitative", "scale": {"domain": [0.5, 11.6], "nice": false, "zero": false, "padding": 0}, "axis": {"values": [1,2,3,4,5,6,7,8,9,10,11], "labels": false, "title": null}}, "y": {"datum": 35, "type": "quantitative", "scale": {"domain": [-197, 0], "reverse": true, "nice": false, "zero": false}, "axis": null}}},
       {"data": {"name": "groups"}, "transform": [{"filter": "datum.tier === 'in vivo'"}], "mark": {"type": "text", "fontSize": 11, "align": "center", "baseline": "middle", "color": "#222222"}, "encoding": {"x": {"field": "mid", "type": "quantitative", "scale": {"domain": [0.5, 11.6], "nice": false, "zero": false, "padding": 0}, "axis": {"values": [1,2,3,4,5,6,7,8,9,10,11], "labels": false, "title": null}}, "y": {"datum": 17, "type": "quantitative", "scale": {"domain": [-197, 0], "reverse": true, "nice": false, "zero": false}, "axis": null}, "text": {"field": "label"}}},
       {"data": {"name": "groups"}, "transform": [{"filter": "datum.tier === 'ex vivo'"}], "mark": {"type": "text", "fontSize": 10.5, "angle": 270, "align": "right", "baseline": "middle", "color": "#222222"}, "encoding": {"x": {"field": "mid", "type": "quantitative", "scale": {"domain": [0.5, 11.6], "nice": false, "zero": false, "padding": 0}, "axis": {"values": [1,2,3,4,5,6,7,8,9,10,11], "labels": false, "title": null}}, "y": {"datum": 39, "type": "quantitative", "scale": {"domain": [-197, 0], "reverse": true, "nice": false, "zero": false}, "axis": null}, "text": {"field": "label"}}},
       {"data": {"name": "tiers"}, "transform": [{"filter": "datum.tier === 'in vivo'"}], "mark": {"type": "text", "fontSize": 12.5, "align": "left", "baseline": "middle", "color": "#222222"}, "encoding": {"x": {"datum": -2.05, "type": "quantitative", "scale": {"domain": [0.5, 11.6], "nice": false, "zero": false, "padding": 0}, "axis": {"values": [1,2,3,4,5,6,7,8,9,10,11], "labels": false, "title": null}}, "y": {"datum": 15, "type": "quantitative", "scale": {"domain": [-197, 0], "reverse": true, "nice": false, "zero": false}, "axis": null}, "text": {"field": "tier"}}},
       {"data": {"name": "tiers"}, "transform": [{"filter": "datum.tier === 'ex vivo'"}], "mark": {"type": "text", "fontSize": 12.5, "align": "left", "baseline": "middle", "color": "#222222"}, "encoding": {"x": {"datum": -2.05, "type": "quantitative", "scale": {"domain": [0.5, 11.6], "nice": false, "zero": false, "padding": 0}, "axis": {"values": [1,2,3,4,5,6,7,8,9,10,11], "labels": false, "title": null}}, "y": {"datum": 42, "type": "quantitative", "scale": {"domain": [-197, 0], "reverse": true, "nice": false, "zero": false}, "axis": null}, "text": {"field": "tier"}}},
       {"data": {"name": "tiers"}, "transform": [{"filter": "datum.tier === 'in vivo'"}], "mark": {"type": "rule", "color": "#222222", "strokeWidth": 1.4}, "encoding": {"x": {"datum": -2.0, "type": "quantitative", "scale": {"domain": [0.5, 11.6], "nice": false, "zero": false, "padding": 0}, "axis": {"values": [1,2,3,4,5,6,7,8,9,10,11], "labels": false, "title": null}}, "x2": {"datum": 11.65}, "y": {"datum": 26.7, "type": "quantitative", "scale": {"domain": [-197, 0], "reverse": true, "nice": false, "zero": false}, "axis": null}}}
      ]}
     ]
    }
   ]
  }
 ]
}
